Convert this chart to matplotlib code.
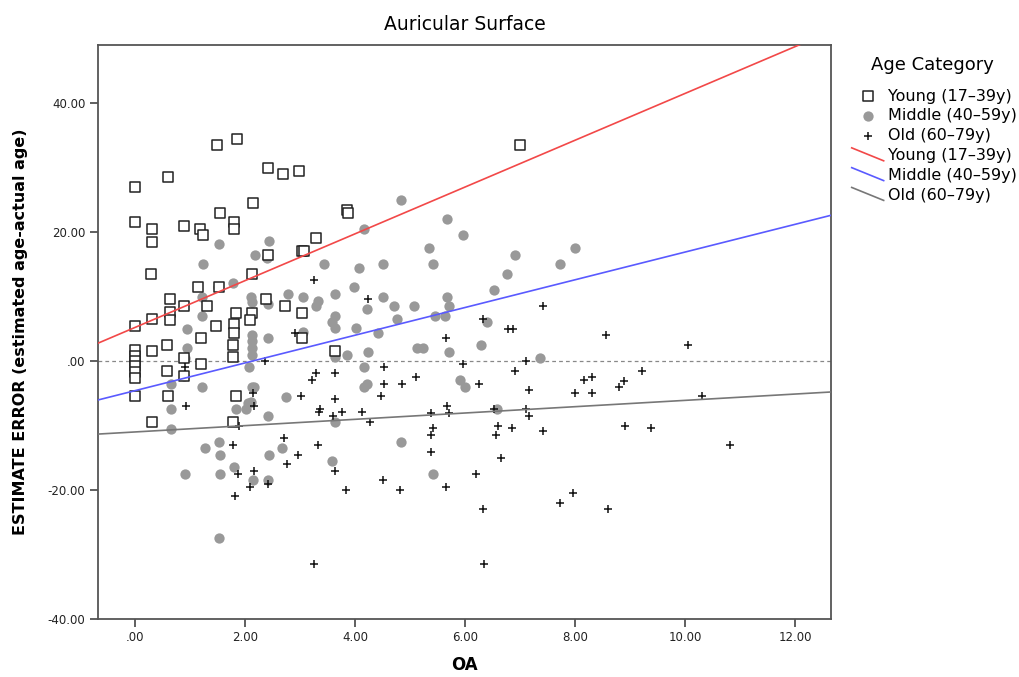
import numpy as np
import matplotlib
matplotlib.use("Agg")
import matplotlib.pyplot as plt
from matplotlib.lines import Line2D
from matplotlib.legend_handler import HandlerLine2D
from matplotlib.ticker import FuncFormatter

# Young (17-39y)
young_x = [0, 0.6, 1.5, 1.86, 2.41, 2.70, 2.98, 2.15, 1.55, 1.8, 1.8, 0, 0.31, 0.89, 1.18, 1.23,
           0.31, 3.30, 3.86, 3.88, 7.0, 2.42, 3.03, 3.08, 0.30, 2.12, 1.15, 1.53, 0.64, 2.39, 0.89,
           1.31, 2.73, 0.64, 1.83, 2.13, 3.03, 0.64, 0.31, 2.09, 0, 1.47, 1.8, 1.8, 1.21, 3.03, 0.59,
           1.78, 0.31, 0, 0, 0, 0, 0, 0, 0.9, 1.79, 1.2, 3.64, 0.59, 0.9, 0, 0.6, 1.83, 0.31, 1.79]
young_y = [27.0, 28.5, 33.5, 34.5, 30.0, 29.0, 29.5, 24.5, 23.0, 21.5, 20.5, 21.5, 20.5, 21.0, 20.5, 19.5,
           18.5, 19.0, 23.4, 23.0, 33.5, 16.5, 17.0, 17.0, 13.5, 13.5, 11.5, 11.5, 9.6, 9.6, 8.5,
           8.5, 8.5, 7.6, 7.5, 7.5, 7.5, 6.4, 6.5, 6.4, 5.5, 5.5, 5.7, 4.4, 3.5, 3.5, 2.5,
           2.5, 1.5, 1.7, 0.8, 0.0, -0.8, -1.7, -2.7, 0.5, 0.6, -0.5, 1.6, -1.5, -2.4, -5.5, -5.5, -5.5, -9.5, -9.5]

# Middle (40-59y)
middle_x = [1.53, 2.44, 2.18, 2.4, 1.23, 3.44, 1.79, 1.51, 1.22, 2.11, 2.78, 3.05, 3.64, 2.12, 2.42,
            3.33, 3.29, 1.22, 3.64, 3.58, 3.64, 0.95, 2.12, 2.12, 2.42, 3.06, 0.95, 0.91, 2.12, 2.12,
            2.07, 3.64, 0.65, 1.22, 2.12, 2.17, 2.11, 2.05, 0.65, 1.83, 2.01, 2.42, 2.74, 3.64, 0.65,
            0.89, 1.27, 1.53, 1.55, 0.91, 1.55, 1.8, 2.15, 2.42, 2.44, 2.68, 3.59, 1.53,
            5.97, 5.35, 6.91, 8.0, 4.08, 4.5, 5.41, 7.73, 6.76, 3.98, 6.52, 4.5, 5.67, 4.22, 4.71,
            5.07, 5.70, 4.77, 5.45, 5.64, 6.39, 4.01, 4.42, 5.13, 5.23, 4.24, 5.71, 6.29, 7.36, 3.86,
            4.16, 4.21, 4.17, 5.9, 6.0, 6.58, 4.83, 4.16, 5.67, 4.84, 5.41]
middle_y = [18.1, 18.6, 16.5, 16.0, 15.0, 15.0, 12.1, 11.5, 10.0, 10.0, 10.4, 10.0, 10.4, 9.2, 8.8,
            9.3, 8.5, 7.0, 7.0, 6.0, 5.1, 5.0, 4.0, 3.1, 3.5, 4.5, 2.0, 0.4, 2.0, 0.9,
            -1.0, 0.7, -3.5, -4.0, -4.0, -4.0, -6.3, -6.5, -7.4, -7.4, -7.4, -8.5, -5.6, -9.4, -10.5,
            -2.4, -13.5, -12.5, -14.6, -17.5, -17.5, -16.5, -18.5, -18.5, -14.6, -13.5, -15.5, -27.5,
            19.5, 17.5, 16.4, 17.5, 14.5, 15.0, 15.0, 15.0, 13.5, 11.5, 11.0, 10.0, 10.0, 8.0, 8.5,
            8.5, 8.5, 6.5, 7.0, 7.0, 6.0, 5.1, 4.4, 2.0, 2.0, 1.4, 1.4, 2.5, 0.5, 1.0,
            -1.0, -3.5, -4.0, -3.0, -4.0, -7.4, 25.0, 20.5, 22.0, -12.5, -17.5]

# Old (60-79y)
old_x = [1.79, 2.71, 2.97, 3.33, 2.77, 1.87, 2.16, 3.64, 2.1, 2.42, 1.82, 3.26, 3.84,
         3.25, 2.91, 0.91, 2.36, 3.3, 3.21, 3.64, 2.15, 3.01, 3.64, 2.16, 0.92, 3.36, 3.35, 3.6, 3.76, 1.89,
         4.24, 7.41, 6.33, 6.78, 6.88, 5.65, 5.97, 7.1, 4.53, 6.91, 5.11, 4.53, 4.85, 6.25, 4.47, 7.16,
         8.17, 8.0, 4.13, 4.27, 5.39, 5.68, 5.7, 6.53, 7.11, 7.17, 5.41, 6.59, 6.86, 7.41,
         5.38, 5.38, 6.56, 6.65, 4.51, 4.82, 5.65, 6.19, 6.33, 6.35, 7.72, 7.97,
         8.56, 10.05, 9.22, 8.31, 8.89, 8.79, 8.31, 10.31, 8.9, 9.38, 10.81, 8.59]
old_y = [-13.0, -12.0, -14.6, -13.0, -16.0, -17.5, -17.0, -17.0, -19.6, -19.0, -21.0, -31.5, -20.0,
         12.6, 4.4, -1.0, 0.0, -1.9, -3.0, -1.9, -5.0, -5.5, -5.9, -7.0, -7.0, -7.4, -7.9, -8.5, -7.9, -10.0,
         9.6, 8.5, 6.5, 4.9, 4.9, 3.5, -0.5, 0.0, -1.0, -1.5, -2.5, -3.5, -3.5, -3.5, -5.5, -4.5,
         -3.0, -5.0, -7.9, -9.5, -8.0, -6.9, -8.1, -7.4, -7.4, -8.5, -10.4, -10.0, -10.4, -10.9,
         -11.5, -14.1, -11.5, -15.0, -18.5, -20.0, -19.6, -17.5, -23.0, -31.5, -22.0, -20.5,
         4.0, 2.5, -1.5, -2.5, -3.1, -4.1, -5.0, -5.5, -10.0, -10.4, -13.0, -23.0]

# fit lines (intercept, slope) per group
groups = ["Young (17\u201339y)", "Middle (40\u201359y)", "Old (60\u201379y)"]
intercepts = [5.2, -4.6, -11.0]
slopes = [3.63, 2.15, 0.49]
line_colors = ["#f24848", "#5a5aff", "#777777"]


class DiagHandler(HandlerLine2D):
    # SPSS style slanted line in the legend
    def create_artists(self, legend, orig_handle, xdescent, ydescent,
                       width, height, fontsize, trans):
        c = height / 2 - ydescent
        ln = Line2D([-xdescent, -xdescent + width], [c + 0.58 * height, c - 0.58 * height])
        self.update_prop(ln, orig_handle, legend)
        ln.set_transform(trans)
        return [ln]


plt.rcParams['font.family'] = ['DejaVu Sans']

fig = plt.figure(figsize=(10.19, 6.77), dpi=100)
ax = fig.add_axes([0.0962, 0.0857, 0.7193, 0.8478])

ax.axhline(0, color="#888888", lw=0.9, ls=(0, (3, 2.5)), zorder=1)

s1 = ax.scatter(young_x, young_y, marker="s", s=42, facecolors="white",
                edgecolors="#222222", linewidths=1.1, zorder=3, label=groups[0])
s2 = ax.scatter(middle_x, middle_y, marker="o", s=55, color="#999999",
                linewidths=0, zorder=2, label=groups[1])
s3 = ax.scatter(old_x, old_y, marker="+", s=38, color="#111111",
                linewidths=1.1, zorder=4, label=groups[2])

ax.set_xlim(-0.67, 12.65)
ax.set_ylim(-40, 49)

xs = np.array(ax.get_xlim())
fit_lines = []
for b0, b1, c, g in zip(intercepts, slopes, line_colors, groups):
    ln, = ax.plot(xs, b0 + b1 * xs, color=c, lw=1.2, zorder=5, label=g)
    fit_lines.append(ln)

fmt = FuncFormatter(lambda v, p: (lambda s: s[1:] if s.startswith("0.") else s)(f"{v:.2f}"))
ax.set_xticks(np.arange(0, 13, 2))
ax.set_yticks(np.arange(-40, 41, 20))
ax.xaxis.set_major_formatter(fmt)
ax.yaxis.set_major_formatter(fmt)
ax.tick_params(direction="out", length=6, width=1.2, color="#444444",
               labelsize=8.5, labelcolor="#222222", pad=3)
for sp in ax.spines.values():
    sp.set_color("#555555")
    sp.set_linewidth(1.3)

ax.set_xlabel("OA", fontsize=12, fontweight="bold", labelpad=8)
ax.set_ylabel("ESTIMATE ERROR (estimated age-actual age)", fontsize=11.5,
              fontweight="bold", labelpad=14)
ax.set_title("Auricular Surface", fontsize=13.5, pad=11)

handler_map = {ln: DiagHandler() for ln in fit_lines}
fig.text(0.9146, 0.904, "Age Category", fontsize=13, ha="center", va="center")
leg = ax.legend(handles=[s1, s2, s3] + fit_lines,
                loc="upper left", bbox_to_anchor=(0.828, 0.881),
                bbox_transform=fig.transFigure, frameon=False,
                fontsize=11.5, labelspacing=0.30,
                handlelength=2.0, handletextpad=0.3, borderpad=0,
                handler_map=handler_map)

fig.savefig("out.png", dpi=100)
